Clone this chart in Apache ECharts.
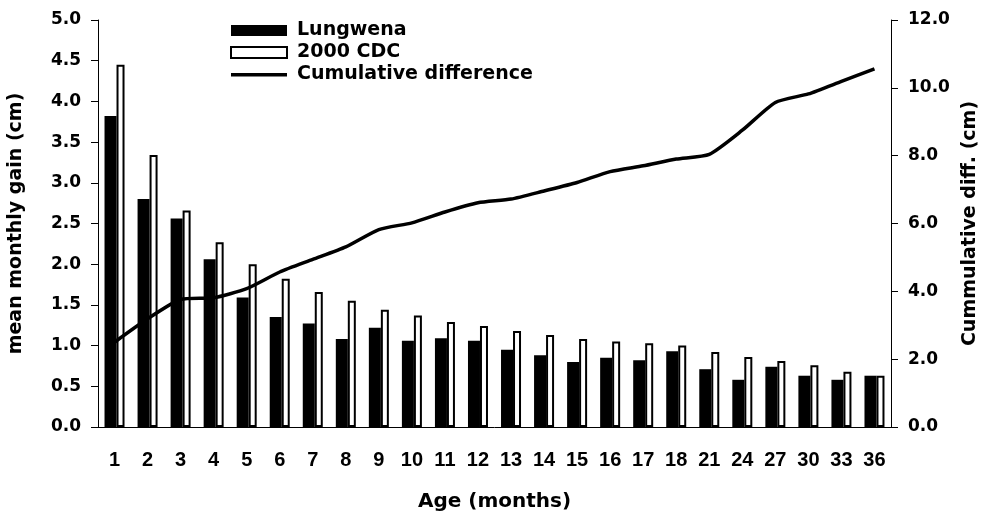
<!DOCTYPE html>
<html>
<head>
<meta charset="utf-8">
<script src="https://cdn.jsdelivr.net/npm/echarts@6/dist/echarts.min.js"></script>
<style>
  html, body { margin: 0; padding: 0; background: #fff; }
  #chart { width: 991px; height: 517px; }
</style>
</head>
<body>
<div id="chart"></div>
<script>
var ageLabels = ['1', '2', '3', '4', '5', '6', '7', '8', '9', '10', '11', '12', '13', '14', '15', '16', '17', '18', '21', '24', '27', '30', '33', '36'];
var lungwena = [3.82, 2.80, 2.56, 2.06, 1.59, 1.35, 1.27, 1.08, 1.22, 1.06, 1.09, 1.06, 0.95, 0.88, 0.80, 0.85, 0.82, 0.93, 0.71, 0.58, 0.74, 0.63, 0.58, 0.63];
var cdc2000 = [4.45, 3.34, 2.66, 2.27, 2.00, 1.82, 1.66, 1.55, 1.44, 1.37, 1.29, 1.24, 1.18, 1.13, 1.08, 1.05, 1.03, 1.00, 0.92, 0.86, 0.81, 0.76, 0.68, 0.63];
var cumDiff = [2.50, 3.19, 3.76, 3.81, 4.08, 4.57, 4.94, 5.31, 5.82, 6.02, 6.34, 6.61, 6.72, 6.96, 7.21, 7.53, 7.70, 7.90, 8.04, 8.75, 9.57, 9.82, 10.19, 10.56];

var boldFont = 'DejaVu Sans';
var axisText = { color: '#000', fontFamily: boldFont, fontWeight: 'bold', fontSize: 17 };
// thick line icon for the legend, padded to the full item height
var lineIcon = 'path://M0,0L1,0L1,0.1L0,0.1Z M0,4L56,4L56,7.5L0,7.5Z M0,10.9L1,10.9L1,11L0,11Z';

var myChart = echarts.init(document.getElementById('chart'));
var option = {
    animation: false,
    backgroundColor: '#fff',
    grid: { left: 98, right: 100, top: 20, bottom: 90, containLabel: false, outerBoundsMode: 'none' },
    legend: {
        orient: 'vertical',
        left: 230,
        top: 21,
        padding: 0,
        itemWidth: 56,
        itemHeight: 11,
        itemGap: 3,
        textStyle: { color: '#000', fontFamily: boldFont, fontWeight: 'bold', fontSize: 19, padding: [0, 0, 0, 5] },
        data: [
            { name: 'Lungwena', icon: 'rect' },
            { name: '2000 CDC', icon: 'rect' },
            { name: 'Cumulative difference', icon: lineIcon }
        ]
    },
    xAxis: {
        type: 'category',
        data: ageLabels,
        name: 'Age (months)',
        nameLocation: 'middle',
        nameGap: 65,
        nameTextStyle: { color: '#000', fontFamily: boldFont, fontWeight: 'bold', fontSize: 20 },
        axisLine: { lineStyle: { color: '#000', width: 1 } },
        axisTick: { alignWithLabel: false, interval: 0, length: 5, lineStyle: { color: '#000' } },
        axisLabel: { interval: 0, margin: 23, color: '#000', fontFamily: 'Liberation Sans', fontWeight: 'bold', fontSize: 20 }
    },
    yAxis: [{
        type: 'value',
        min: 0,
        max: 5,
        interval: 0.5,
        name: 'mean monthly gain (cm)',
        nameLocation: 'middle',
        nameRotate: 90,
        nameGap: 72,
        nameTextStyle: { color: '#000', fontFamily: boldFont, fontWeight: 'bold', fontSize: 19 },
        axisLine: { show: true, lineStyle: { color: '#000', width: 1 } },
        axisTick: { show: true, length: 7, lineStyle: { color: '#000' } },
        axisLabel: Object.assign({ margin: 17, formatter: function(v){ return v.toFixed(1); } }, axisText),
        splitLine: { show: false }
    }, {
        type: 'value',
        min: 0,
        max: 12,
        interval: 2,
        name: 'Cummulative diff. (cm)',
        nameLocation: 'middle',
        nameRotate: 90,
        nameGap: 70,
        nameTextStyle: { color: '#000', fontFamily: boldFont, fontWeight: 'bold', fontSize: 19 },
        axisLine: { show: true, lineStyle: { color: '#000', width: 1 } },
        axisTick: { show: true, length: 7, lineStyle: { color: '#000' } },
        axisLabel: Object.assign({ margin: 17, formatter: function(v){ return v.toFixed(1); } }, axisText),
        splitLine: { show: false }
    }],
    series: [{
        name: 'Lungwena',
        type: 'bar',
        barWidth: 12,
        barGap: '0%',
        itemStyle: { color: '#000' },
        data: lungwena
    }, {
        name: '2000 CDC',
        type: 'bar',
        barWidth: 8,
        barGap: '0%',
        itemStyle: { color: '#fff', borderColor: '#000', borderWidth: 2 },
        data: cdc2000
    }, {
        name: 'Cumulative difference',
        type: 'line',
        yAxisIndex: 1,
        symbol: 'none',
        smooth: 0.2,
        lineStyle: { color: '#000', width: 3.5 },
        itemStyle: { color: '#000' },
        data: cumDiff
    }]
};
myChart.setOption(option);
</script>
</body>
</html>
